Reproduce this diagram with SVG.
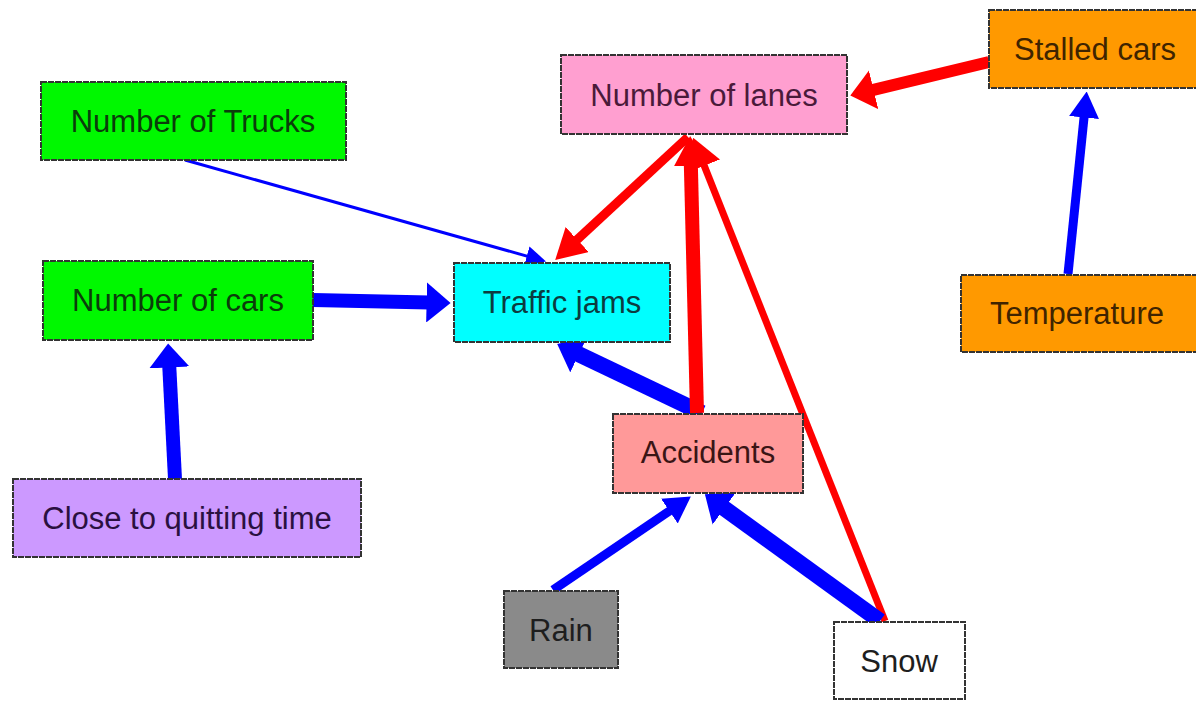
<svg xmlns="http://www.w3.org/2000/svg" width="1196" height="701" viewBox="0 0 1196 701">
<style>
.box{stroke:#333333;stroke-width:2;stroke-dasharray:6 1}
.lbl{font-family:"Liberation Sans",Arial,sans-serif;font-size:31px;text-anchor:middle}
.b{stroke:#0000ff;fill:none}
.r{stroke:#ff0000;fill:none}
</style>
<defs>
<marker id="bs" viewBox="0 0 10 10" refX="1" refY="5" markerWidth="20" markerHeight="20" markerUnits="userSpaceOnUse" orient="auto" preserveAspectRatio="none"><path d="M0,0 L10,5 L0,10 z" fill="#0000ff"/></marker>
<marker id="bm" viewBox="0 0 10 10" refX="1" refY="5" markerWidth="26" markerHeight="30" markerUnits="userSpaceOnUse" orient="auto" preserveAspectRatio="none"><path d="M0,0 L10,5 L0,10 z" fill="#0000ff"/></marker>
<marker id="bl" viewBox="0 0 10 10" refX="1" refY="5" markerWidth="24" markerHeight="40" markerUnits="userSpaceOnUse" orient="auto" preserveAspectRatio="none"><path d="M0,0 L10,5 L0,10 z" fill="#0000ff"/></marker>
<marker id="rm" viewBox="0 0 10 10" refX="1" refY="5" markerWidth="30" markerHeight="34" markerUnits="userSpaceOnUse" orient="auto" preserveAspectRatio="none"><path d="M0,0 L10,5 L0,10 z" fill="#ff0000"/></marker>
<marker id="rl" viewBox="0 0 10 10" refX="1" refY="5" markerWidth="24" markerHeight="40" markerUnits="userSpaceOnUse" orient="auto" preserveAspectRatio="none"><path d="M0,0 L10,5 L0,10 z" fill="#ff0000"/></marker>
</defs>
<rect width="1196" height="701" fill="#ffffff"/>
<g id="connectors">
<line class="b" x1="185" y1="160" x2="528.7" y2="256.6" stroke-width="3" marker-end="url(#bs)"/>
<line class="b" x1="313" y1="300" x2="429" y2="302.5" stroke-width="14" marker-end="url(#bl)"/>
<line class="b" x1="175" y1="479" x2="169.2" y2="365" stroke-width="14" marker-end="url(#bl)"/>
<line class="r" x1="688" y1="137" x2="575" y2="241.6" stroke-width="9" marker-end="url(#rm)"/>
<line class="r" x1="989" y1="62" x2="871.3" y2="90.4" stroke-width="12" marker-end="url(#rl)"/>
<line class="b" x1="1068" y1="274" x2="1084.3" y2="114.9" stroke-width="9" marker-end="url(#bm)"/>
<line class="b" x1="702" y1="413" x2="576.7" y2="353.3" stroke-width="16" marker-end="url(#bl)"/>
<line class="r" x1="697" y1="413" x2="690.8" y2="163" stroke-width="14" marker-end="url(#rm)"/>
<line class="r" x1="885" y1="621" x2="703.1" y2="162.9" stroke-width="7" marker-end="url(#rm)"/>
<line class="b" x1="553" y1="590" x2="671.5" y2="509.6" stroke-width="9" marker-end="url(#bm)"/>
<line class="b" x1="880" y1="621" x2="722.4" y2="507" stroke-width="16" marker-end="url(#bl)"/>
</g>
<g id="n-trucks"><rect class="box" x="41" y="82" width="305" height="78" fill="#00f800"/><text class="lbl" x="193" y="132" fill="#0b3d0b">Number of Trucks</text></g>
<g id="n-cars"><rect class="box" x="43" y="261" width="270" height="79" fill="#00f800"/><text class="lbl" x="178" y="311" fill="#0b3d0b">Number of cars</text></g>
<g id="n-quit"><rect class="box" x="13" y="479" width="348" height="78" fill="#cc99ff"/><text class="lbl" x="187" y="529" fill="#2a1040">Close to quitting time</text></g>
<g id="n-traffic"><rect class="box" x="454" y="263" width="216" height="79" fill="#00ffff"/><text class="lbl" x="562" y="313" fill="#0c3c40">Traffic jams</text></g>
<g id="n-lanes"><rect class="box" x="561" y="55" width="286" height="79" fill="#ff9fd0"/><text class="lbl" x="704" y="106" fill="#4a1a3a">Number of lanes</text></g>
<g id="n-stalled"><rect class="box" x="989" y="10" width="210" height="78" fill="#ff9900"/><text class="lbl" x="1095" y="60" fill="#3f2400">Stalled cars</text></g>
<g id="n-temp"><rect class="box" x="961" y="275" width="238" height="77" fill="#ff9900"/><text class="lbl" x="1077" y="324" fill="#3f2400">Temperature</text></g>
<g id="n-accidents"><rect class="box" x="613" y="414" width="190" height="79" fill="#ff9999"/><text class="lbl" x="708" y="463" fill="#3a1515">Accidents</text></g>
<g id="n-rain"><rect class="box" x="504" y="591" width="114" height="77" fill="#8a8a8a"/><text class="lbl" x="561" y="641" fill="#1e1e1e">Rain</text></g>
<g id="n-snow"><rect class="box" x="834" y="622" width="131" height="77" fill="#ffffff"/><text class="lbl" x="899" y="672" fill="#1e1e1e">Snow</text></g>
</svg>
